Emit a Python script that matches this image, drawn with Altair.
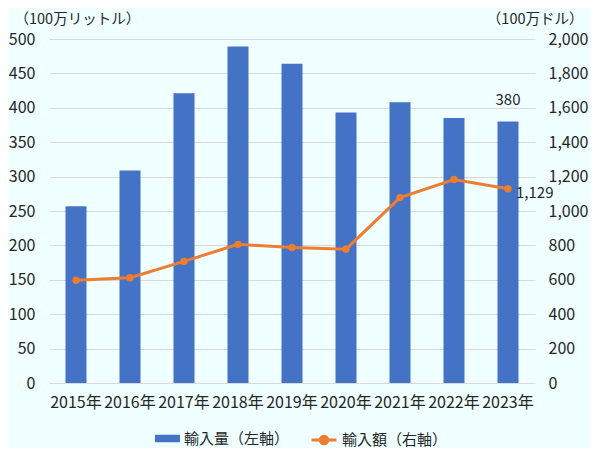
import altair as alt
import pandas as pd

years = ["2015年", "2016年", "2017年", "2018年", "2019年", "2020年", "2021年", "2022年", "2023年"]
volume = [257, 309, 421, 489, 464, 393, 408, 385, 380]          # 100万リットル (left)
value = [597, 612, 707, 806, 788, 778, 1078, 1183, 1129]        # 100万ドル (right)
series_vol = "輸入量（左軸）"
series_val = "輸入額（右軸）"
left_title = "（100万リットル）"
right_title = "（100万ドル）"

df = pd.DataFrame({"year": years, "vol": volume, "val": value,
                   "s1": series_vol, "s2": series_val})

FONT = "Noto Sans CJK JP"
TXT = "#262626"
BLUE = "#4472C4"
ORANGE = "#ED7D31"

base = alt.Chart(df)
xenc = alt.X("year:N", sort=years, title=None,
             scale=alt.Scale(paddingInner=0.6, paddingOuter=0.3),
             axis=alt.Axis(labelAngle=0, labelPadding=11, ticks=False, domain=False,
                           labelFontSize=16, labelColor=TXT, grid=False))

bar_path = "M-1,-0.3H1V0.3H-1Z"
line_path = "M-1,0H1M-0.3,0A0.3,0.3,0,1,1,0.3,0A0.3,0.3,0,1,1,-0.3,0Z"

yl = alt.Y("vol:Q", scale=alt.Scale(domain=[0, 500]),
           axis=alt.Axis(values=list(range(0, 501, 50)), title=left_title, titleAngle=0,
                         titleAlign="left", titleBaseline="middle", titleX=-35, titleY=-20,
                         titleFontSize=14.5, titleFontWeight="normal", titleColor=TXT,
                         labelFontSize=16, labelColor=TXT, labelPadding=14,
                         ticks=False, domain=False, gridColor="#D9D9D9"))

bars = base.mark_bar(size=21).encode(
    x=xenc, y=yl,
    color=alt.Color("s1:N", scale=alt.Scale(domain=[series_vol], range=[BLUE]),
                    legend=alt.Legend(title=None, orient="none", legendX=106, legendY=387,
                                      symbolType=bar_path, symbolSize=625, symbolStrokeWidth=0,
                                      labelFontSize=15, labelColor=TXT, padding=0)),
)
bar_lbl = base.transform_filter(alt.datum.year == "2023年").mark_text(
    dy=-14, fontSize=15, color=TXT, font=FONT, baseline="bottom").encode(
    x=xenc, y=yl, text=alt.Text("vol:Q", format="d"))

left = alt.layer(bars, bar_lbl)

yr = alt.Y("val:Q", scale=alt.Scale(domain=[0, 2000]),
           axis=alt.Axis(values=list(range(0, 2001, 200)), format=",d", orient="right",
                         title=right_title, titleAngle=0, titleAlign="right",
                         titleBaseline="middle", titleX=48, titleY=-20,
                         titleFontSize=14.5, titleFontWeight="normal", titleColor=TXT,
                         labelFontSize=16, labelColor=TXT, labelPadding=13,
                         ticks=False, domain=False, grid=False))

line = base.mark_line(strokeWidth=3).encode(
    x=xenc, y=yr,
    stroke=alt.Stroke("s2:N", scale=alt.Scale(domain=[series_val], range=[ORANGE]),
                      legend=alt.Legend(title=None, orient="none", legendX=261, legendY=387,
                                        symbolType=line_path, symbolSize=625,
                                        symbolStrokeWidth=3, symbolFillColor=ORANGE,
                                        labelFontSize=15, labelColor=TXT, padding=0)),
)
pts = base.mark_circle(size=55, opacity=1, color=ORANGE).encode(x=xenc, y=yr)
line_lbl = base.transform_filter(alt.datum.year == "2023年").mark_text(
    dx=8, dy=4, align="left", fontSize=15, color=TXT, font=FONT).encode(
    x=xenc, y=yr, text=alt.Text("val:Q", format=","))

right = alt.layer(line, pts, line_lbl)

chart = alt.layer(left, right).resolve_scale(y="independent").properties(
    width=486, height=344,
    autosize=alt.AutoSizeParams(type="none"),
    padding={"left": 41, "top": 31, "right": 55, "bottom": 65},
    background="#F0FFFF",
).configure(font=FONT).configure_view(stroke=None).configure_axis(
    labelFont=FONT, titleFont=FONT).configure_legend(labelFont=FONT)

chart.save("out.html", embed_options={"renderer": "svg", "actions": False})
